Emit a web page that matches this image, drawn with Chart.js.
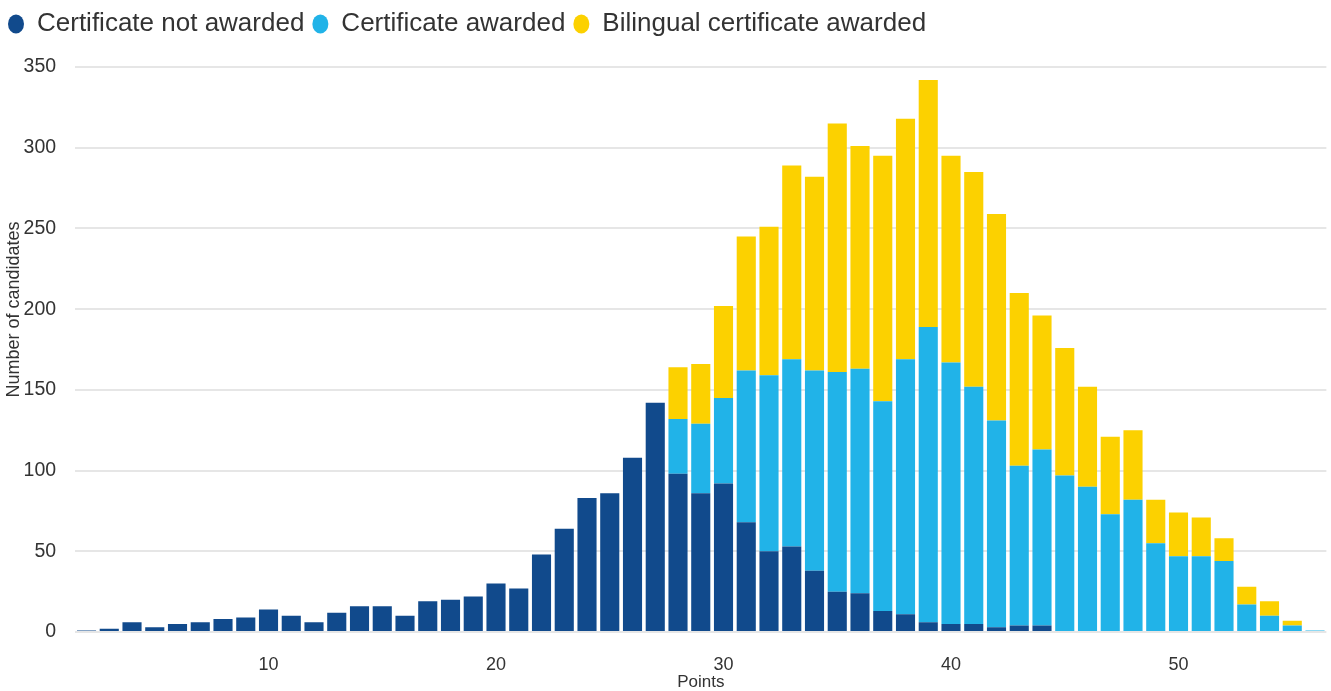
<!DOCTYPE html>
<html>
<head>
<meta charset="utf-8">
<script src="https://cdn.jsdelivr.net/npm/chart.js@4.4.0/dist/chart.umd.min.js"></script>
<style>
  html, body { margin: 0; padding: 0; background: #fff; }
  #wrap { width: 1331px; height: 691px; position: relative; }
</style>
</head>
<body>
<div id="wrap"><canvas id="chart"></canvas></div>
<script>
// points scored, 2 to 56
const points = [2, 3, 4, 5, 6, 7, 8, 9, 10, 11, 12, 13, 14, 15, 16, 17, 18, 19, 20, 21, 22, 23, 24, 25, 26, 27, 28, 29,
  30, 31, 32, 33, 34, 35, 36, 37, 38, 39, 40, 41, 42, 43, 44, 45, 46, 47, 48, 49, 50, 51, 52, 53, 54, 55, 56];

const notAwarded = [1, 2, 6, 3, 5, 6, 8, 9, 14, 10, 6, 12, 16, 16, 10, 19, 20, 22, 30, 27, 48, 64, 83, 86, 108, 142, 98, 86,
  92, 68, 50, 53, 38, 25, 24, 13, 11, 6, 5, 5, 3, 4, 4, 0, 0, 0, 0, 0, 0, 0, 0, 0, 0, 0, 0];

const awarded = [0, 0, 0, 0, 0, 0, 0, 0, 0, 0, 0, 0, 0, 0, 0, 0, 0, 0, 0, 0, 0, 0, 0, 0, 0, 0, 34, 43,
  53, 94, 109, 116, 124, 136, 139, 130, 158, 183, 162, 147, 128, 99, 109, 97, 90, 73, 82, 55, 47, 47, 44, 17, 10, 4, 1];

const bilingual = [0, 0, 0, 0, 0, 0, 0, 0, 0, 0, 0, 0, 0, 0, 0, 0, 0, 0, 0, 0, 0, 0, 0, 0, 0, 0, 32, 37,
  57, 83, 92, 120, 120, 154, 138, 152, 149, 153, 128, 133, 128, 107, 83, 79, 62, 48, 43, 27, 27, 24, 14, 11, 9, 3, 0];

const yTicks = [0, 50, 100, 150, 200, 250, 300, 350];

const textColor = '#333333';
const fontFamily = 'Arial, "Liberation Sans", sans-serif';

// extra room under the legend
const legendGap = {
  id: 'legendGap',
  beforeInit(chart) {
    const fit = chart.legend.fit;
    chart.legend.fit = function () {
      fit.bind(chart.legend)();
      this.height += 20;
    };
  },
};

const ctx = document.getElementById('chart').getContext('2d');
new Chart(ctx, {
  type: 'bar',
  data: {
    labels: points.map(String),
    datasets: [
      { label: 'Certificate not awarded', data: notAwarded, backgroundColor: '#114a8c' },
      { label: 'Certificate awarded', data: awarded, backgroundColor: '#21b3e8' },
      { label: 'Bilingual certificate awarded', data: bilingual, backgroundColor: '#fcd100' },
    ],
  },
  plugins: [legendGap],
  options: {
    responsive: true,
    maintainAspectRatio: false,
    animation: false,
    layout: { padding: { left: 0, right: -2, top: 3, bottom: 0 } },
    datasets: {
      bar: { categoryPercentage: 1, barPercentage: 0.84, borderWidth: 0 },
    },
    plugins: {
      tooltip: { enabled: false },
      legend: {
        position: 'top',
        align: 'start',
        labels: {
          usePointStyle: true,
          pointStyle: 'circle',
          pointStyleWidth: 16,
          boxWidth: 16,
          boxHeight: 13.4,
          padding: 8,
          color: textColor,
          font: { family: fontFamily, size: 26 },
        },
      },
    },
    scales: {
      x: {
        stacked: true,
        grid: { display: false },
        border: { display: false },
        title: {
          display: true,
          text: 'Points',
          color: textColor,
          font: { family: fontFamily, size: 17, lineHeight: 1 },
          padding: { top: -16, bottom: 0 },
        },
        ticks: {
          autoSkip: false,
          maxRotation: 0,
          padding: 16,
          color: textColor,
          font: { family: fontFamily, size: 18, lineHeight: 1 },
          callback: function (value, index) {
            return points[index] % 10 === 0 ? String(points[index]) : '';
          },
        },
      },
      y: {
        stacked: true,
        min: 0,
        max: 350,
        afterBuildTicks: (axis) => { axis.ticks = yTicks.map((v) => ({ value: v })); },
        grid: { color: '#e6e6e6', lineWidth: 2, drawTicks: false },
        border: { display: false },
        title: {
          display: true,
          // leading non-breaking spaces lift the title above the axis middle, as in the source
          text: '\u00A0'.repeat(16) + 'Number of candidates',
          color: textColor,
          font: { family: fontFamily, size: 18 },
          padding: { top: 3, bottom: -20 },
        },
        ticks: {
          padding: 19,
          color: textColor,
          font: { family: fontFamily, size: 19.5 },
        },
      },
    },
  },
});
</script>
</body>
</html>
